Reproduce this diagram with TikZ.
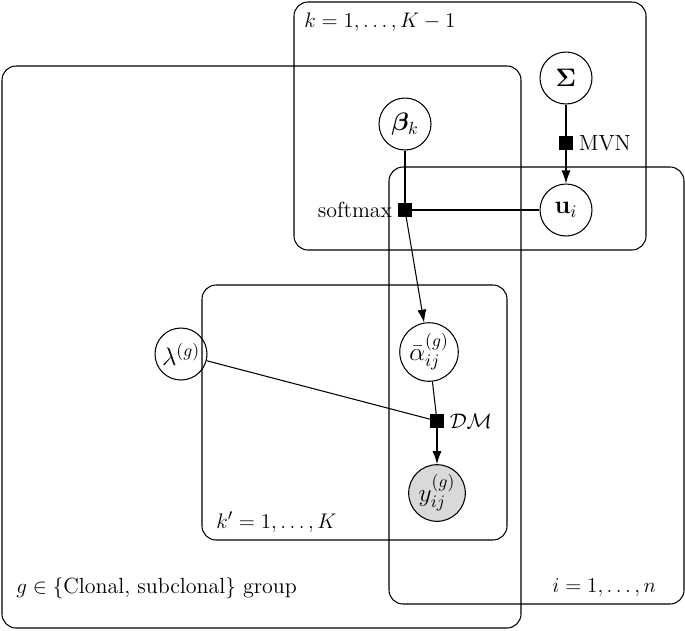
\documentclass[tikz,border=0pt]{standalone}
\usepackage{amsmath}
\usepackage{amssymb}
\usepackage{bm}
\usetikzlibrary{arrows, arrows.meta, positioning}

\begin{document}
\begin{tikzpicture}[x=0.02cm, y=-0.02cm, >={Latex[length=2.6mm,width=1.8mm]}, font=\fontsize{12.5}{14}\selectfont, semithick]
		\tikzstyle{latent}=[draw=black, circle, minimum size=1.04cm, inner sep=1pt, font=\fontsize{14}{16}\selectfont]
		\tikzstyle{obs}=[latent, fill=black!15]
		\tikzstyle{factor}=[draw=black, fill=black, rectangle, minimum size=0.24cm, inner sep=0pt]
		\tikzstyle{plate}=[draw=black, rounded corners=8pt]

		\useasboundingbox (0,0) rectangle (685,630);

		% plates
		\draw[plate] (294,2) rectangle (646,250);
		\draw[plate] (2,66) rectangle (521,628);
		\draw[plate] (389,167) rectangle (684,604);
		\draw[plate] (202,285) rectangle (507,540);
		\node[anchor=west] (lk)	at (298,22)	{$k=1,\dots,K-1$};
		\node[anchor=west] (lg)	at (10,588)	{$g\in\{\text{Clonal, subclonal}\}$ group};
		\node[anchor=west] (li)	at (546,588)	{$i=1,\dots,n$};
		\node[anchor=west] (lkp)	at (210,522)	{$k'=1,\dots,K$};

		% nodes
		\node[latent]	(Sigma)	at (566,78)	{$\boldsymbol{\Sigma}$};
		\node[latent]	(beta)	at (405,124)	{$\boldsymbol{\beta}_k$};
		\node[latent]	(u)		at (566,210)	{$\mathbf{u}_i$};
		\node[latent]	(alpha)	at (429,352)	{$\bar{\alpha}_{ij}^{(g)}$};
		\node[latent]	(lambda)	at (181,354)	{$\lambda^{(g)}$};
		\node[obs]		(y)		at (437,493)	{$y_{ij}^{(g)}$};

		\node[factor, label=left:softmax]				(fsm)	at (405,210)	{};
		\node[factor, label=right:MVN]				(fmvn)	at (566,143)	{};
		\node[factor, label=right:$\mathcal{DM}$]	(fdm)	at (437,421)	{};

		% edges
		\draw (beta) -- (fsm);
		\draw (u) -- (fsm);
		\draw[->] (fsm) -- (alpha);
		\draw (Sigma) -- (fmvn);
		\draw[->] (fmvn) -- (u);
		\draw (lambda) -- (fdm);
		\draw (alpha) -- (fdm);
		\draw[->] (fdm) -- (y);
	\end{tikzpicture}
\end{document}
